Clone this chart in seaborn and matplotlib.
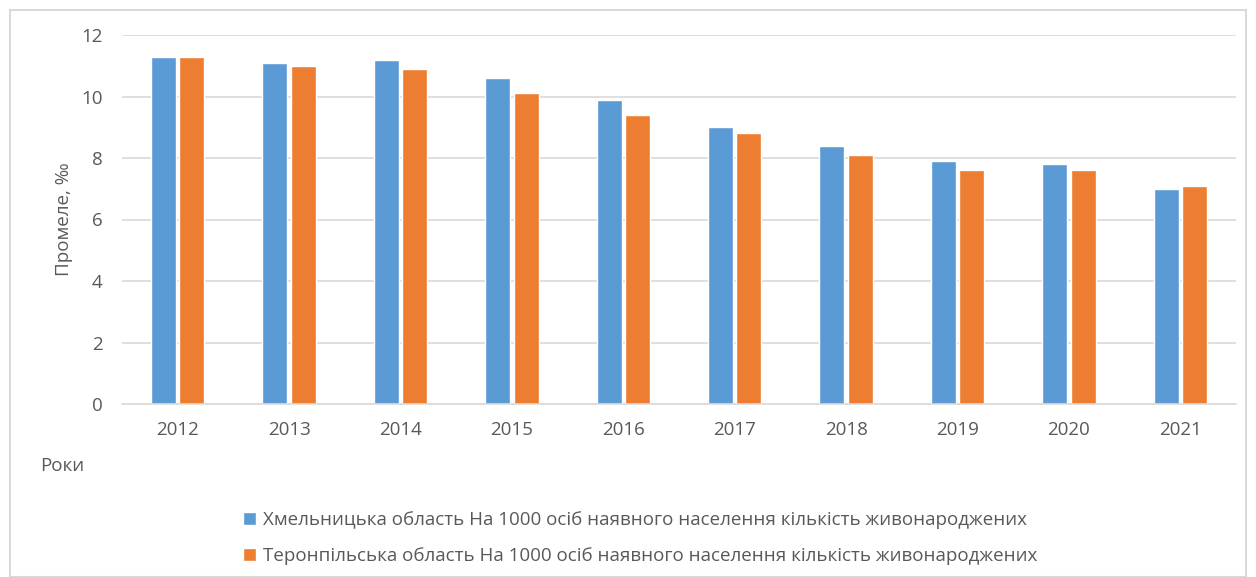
import numpy as np
import pandas as pd
import seaborn as sns
import matplotlib.pyplot as plt
from matplotlib.patches import Rectangle

years = ['2012', '2013', '2014', '2015', '2016', '2017', '2018', '2019', '2020', '2021']
khmelnytskyi = [11.3, 11.1, 11.2, 10.6, 9.9, 9.0, 8.4, 7.9, 7.8, 7.0]
ternopil = [11.3, 11.0, 10.9, 10.1, 9.4, 8.8, 8.1, 7.6, 7.6, 7.1]
series_names = [
    'Хмельницька область На 1000 осіб наявного населення кількість живонароджених',
    'Теронпільська область На 1000 осіб наявного населення кількість живонароджених',
]

df = pd.DataFrame({
    'year': years * 2,
    'value': khmelnytskyi + ternopil,
    'region': [series_names[0]] * len(years) + [series_names[1]] * len(years),
})

sns.set_style('white')
plt.rcParams['font.family'] = ['Open Sans', 'DejaVu Sans']
text_color = '#595959'

fig = plt.figure(figsize=(12.56, 5.77), dpi=100)
ax = fig.add_axes([122 / 1256, 1 - 404 / 577, (1236 - 122) / 1256, (404 - 35) / 577])

palette = {series_names[0]: '#5b9bd5', series_names[1]: '#ed7d31'}
sns.barplot(data=df, x='year', y='value', hue='region', palette=palette,
            width=0.51, gap=0.12, saturation=1, ax=ax, legend=True)

ax.set_ylim(0, 12)
ax.set_yticks(np.arange(0, 13, 2))
ax.yaxis.grid(True, color='#d9d9d9', linewidth=1.2)
ax.set_axisbelow(True)
for side in ['left', 'right', 'top']:
    ax.spines[side].set_visible(False)
ax.spines['bottom'].set_color('#d9d9d9')
ax.spines['bottom'].set_linewidth(1.2)
ax.tick_params(axis='both', length=0, labelsize=13.5, colors=text_color)
ax.tick_params(axis='y', pad=14)
ax.tick_params(axis='x', pad=12)
ax.set_xlabel('')
ax.set_ylabel('Промеле, ‰', fontsize=13.5, color=text_color, labelpad=6)

fig.text(40 / 1256, 1 - 466 / 577, 'Роки', fontsize=13.5, color=text_color, va='center')

handles, labels = ax.get_legend_handles_labels()
ax.get_legend().remove()
fig.legend(handles, labels, loc='center', bbox_to_anchor=(640 / 1256, 1 - 538 / 577),
           ncol=1, frameon=False, fontsize=13.5, labelcolor=text_color,
           handlelength=0.7, handleheight=0.7, handletextpad=0.4, labelspacing=0.95)

fig.patches.append(Rectangle((10 / 1256, 0), 1236 / 1256, 1 - 10 / 577,
                             transform=fig.transFigure, fill=False,
                             edgecolor='#d9d9d9', linewidth=1.5))

fig.savefig('out.png', dpi=100)
